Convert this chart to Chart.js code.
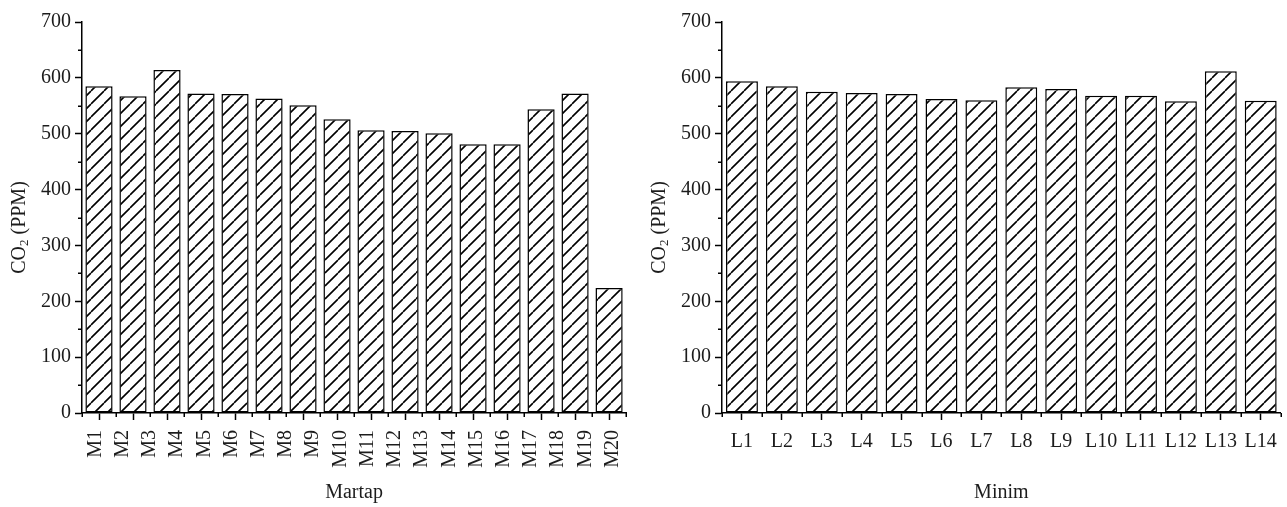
<!DOCTYPE html>
<html>
<head>
<meta charset="utf-8">
<script src="https://cdn.jsdelivr.net/npm/chart.js@4.4.1/dist/chart.umd.min.js"></script>
<style>
  html, body { margin: 0; padding: 0; background: #fff; }
  body { width: 1287px; height: 507px; position: relative; overflow: hidden; }
  .panel { position: absolute; top: 0; width: 647px; height: 507px; }
  #p1 { left: 0; }
  #p2 { left: 640px; }
</style>
</head>
<body>
<div class="panel" id="p1"><canvas id="c1"></canvas></div>
<div class="panel" id="p2"><canvas id="c2"></canvas></div>
<script>
// Martap site: 20 sample names along the axis, 16 measured bars
const martapLabels = ['M1','M2','M3','M4','M5','M6','M7','M8','M9','M10',
                      'M11','M12','M13','M14','M15','M16','M17','M18','M19','M20'];
const martapValues = [585, 567, 614, 572, 571, 563, 551, 526, 506, 505, 501, 481, 481, 544, 572, 224];

// Minim site
const minimLabels = ['L1','L2','L3','L4','L5','L6','L7','L8','L9','L10','L11','L12','L13','L14'];
const minimValues = [594, 585, 575, 573, 571, 562, 560, 583, 580, 568, 568, 558, 612, 559];

const yTicks = { min: 0, max: 700, step: 100, minorStep: 50 };
const yTitleParts = ['CO', '2', ' (PPM)'];
const xTitles = ['Martap', 'Minim'];

const FONT = '"Liberation Serif", "Times New Roman", serif';
const INK = '#1c1c1c';

// diagonal "/" hatch fill
function hatch(period, lw) {
  const c = document.createElement('canvas');
  c.width = c.height = period;
  const g = c.getContext('2d');
  g.fillStyle = '#fff';
  g.fillRect(0, 0, period, period);
  g.strokeStyle = '#000';
  g.lineWidth = lw;
  g.beginPath();
  for (const o of [-period, 0, period]) {
    g.moveTo(o, period);
    g.lineTo(o + period, 0);
  }
  g.stroke();
  return g.createPattern(c, 'repeat');
}
const fill = hatch(13, 1.6);

// minor ticks on both axes and the rotated y title with a subscript
const axisDecor = {
  id: 'axisDecor',
  afterDraw(chart) {
    const ctx = chart.ctx;
    const ys = chart.scales.y;
    const xs = chart.scales.x;
    ctx.save();
    ctx.strokeStyle = '#000';
    ctx.lineWidth = 1.5;
    ctx.beginPath();
    for (let v = yTicks.min + yTicks.minorStep; v < yTicks.max; v += yTicks.step) {
      const py = Math.round(ys.getPixelForValue(v)) + 0.25;
      ctx.moveTo(ys.right - 4, py);
      ctx.lineTo(ys.right, py);
    }
    const n = xs.getLabels().length;
    for (let i = 0; i <= n; i++) {
      const px = Math.round(xs.getPixelForValue(i - 0.5)) + 0.25;
      ctx.moveTo(px, xs.top);
      ctx.lineTo(px, xs.top + 4);
    }
    ctx.stroke();

    const area = chart.chartArea;
    ctx.fillStyle = INK;
    ctx.translate(20, (area.top + area.bottom) / 2 + 10);
    ctx.rotate(-Math.PI / 2);
    ctx.textBaseline = 'middle';
    const big = '20px ' + FONT, small = '13px ' + FONT;
    ctx.font = big;
    const w1 = ctx.measureText(yTitleParts[0]).width;
    const w3 = ctx.measureText(yTitleParts[2]).width;
    ctx.font = small;
    const w2 = ctx.measureText(yTitleParts[1]).width;
    let x = -(w1 + w2 + w3) / 2;
    ctx.font = big;
    ctx.fillText(yTitleParts[0], x, 0); x += w1;
    ctx.font = small;
    ctx.fillText(yTitleParts[1], x, 5); x += w2;
    ctx.font = big;
    ctx.fillText(yTitleParts[2], x, 0);
    ctx.restore();
  }
};

function yScale() {
  return {
    min: yTicks.min, max: yTicks.max,
    afterFit: s => { s.width = 82; },
    ticks: { stepSize: yTicks.step, color: INK, padding: 4, font: { family: FONT, size: 20 } },
    grid: { drawOnChartArea: false, tickLength: 7, tickColor: '#000', tickWidth: 1.5 },
    border: { display: true, color: '#000', width: 1.5 }
  };
}

function barSet(values) {
  return {
    data: values,
    backgroundColor: fill,
    borderColor: '#000',
    borderWidth: 1.5,
    borderSkipped: false,
    barPercentage: 0.8,
    categoryPercentage: 1.0
  };
}

const common = {
  responsive: true,
  maintainAspectRatio: false,
  animation: false,
  layout: { padding: { left: 0, top: 22, right: 5, bottom: 0 } },
  plugins: { legend: { display: false }, tooltip: { enabled: false } }
};

// Martap panel: bars on a 16-slot axis, names on a separate label axis
new Chart(document.getElementById('c1'), {
  type: 'bar',
  data: {
    labels: martapValues.map((_, i) => String(i + 1)),
    datasets: [barSet(martapValues)]
  },
  options: {
    ...common,
    scales: {
      x: {
        type: 'category', offset: true, weight: 0,
        ticks: { display: false },
        grid: { offset: false, drawOnChartArea: false, tickLength: 7, tickColor: '#000', tickWidth: 1.5 },
        border: { display: true, color: '#000', width: 1.5 }
      },
      xl: {
        type: 'category', position: 'bottom', offset: true, weight: 1,
        labels: martapLabels,
        afterFit: s => { s.height = 507 - 413 - 7; },
        ticks: { autoSkip: false, minRotation: 90, maxRotation: 90, padding: 10, color: INK,
                 font: { family: FONT, size: 20 } },
        grid: { display: false, drawTicks: false },
        border: { display: false },
        title: { display: true, text: xTitles[0], color: INK, padding: { top: 0, bottom: 2 },
                 font: { family: FONT, size: 20 } }
      },
      y: yScale()
    }
  },
  plugins: [axisDecor]
});

// Minim panel
new Chart(document.getElementById('c2'), {
  type: 'bar',
  data: { labels: minimLabels, datasets: [barSet(minimValues)] },
  options: {
    ...common,
    scales: {
      x: {
        type: 'category', offset: true,
        afterFit: s => { s.height = 507 - 413; },
        ticks: { autoSkip: false, minRotation: 0, maxRotation: 0, padding: 10, color: INK,
                 font: { family: FONT, size: 20 } },
        grid: { offset: false, drawOnChartArea: false, tickLength: 7, tickColor: '#000', tickWidth: 1.5 },
        border: { display: true, color: '#000', width: 1.5 },
        title: { display: true, text: xTitles[1], color: INK, padding: { top: 0, bottom: 2 },
                 font: { family: FONT, size: 20 } }
      },
      y: yScale()
    }
  },
  plugins: [axisDecor]
});
</script>
</body>
</html>
